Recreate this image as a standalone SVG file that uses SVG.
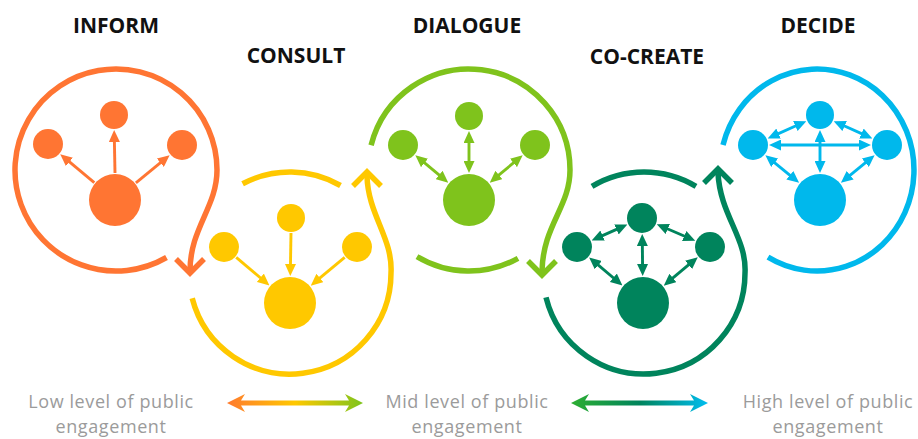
<svg xmlns="http://www.w3.org/2000/svg" width="918" height="439" viewBox="0 0 918 439">
<style>
.title{font-family:"Open Sans","Liberation Sans",sans-serif;font-weight:bold;font-size:21px;fill:#111;text-anchor:middle}
.lvl{font-family:"Open Sans","Liberation Sans",sans-serif;font-size:18px;letter-spacing:0.6px;fill:#9b9b9b;text-anchor:middle}
.ring{fill:none;stroke-width:5.5}
.chev{fill:none;stroke-width:5.5;stroke-linejoin:miter;stroke-miterlimit:10}
.link{fill:none;stroke-width:2.9}
.or{stroke:#FF7533}.ye{stroke:#FFC800}.gr{stroke:#7FC31C}.te{stroke:#00845C}.bl{stroke:#00B8EC}
.for{fill:#FF7533}.fye{fill:#FFC800}.fgr{fill:#7FC31C}.fte{fill:#00845C}.fbl{fill:#00B8EC}
</style>
<defs>
<marker id="m-or" viewBox="0 0 12 11" markerWidth="12" markerHeight="11" refX="5" refY="5.5" orient="auto-start-reverse" markerUnits="userSpaceOnUse"><path d="M0,0 L12,5.5 L0,11 z" fill="#FF7533"/></marker>
<marker id="m-ye" viewBox="0 0 12 11" markerWidth="12" markerHeight="11" refX="5" refY="5.5" orient="auto-start-reverse" markerUnits="userSpaceOnUse"><path d="M0,0 L12,5.5 L0,11 z" fill="#FFC800"/></marker>
<marker id="m-gr" viewBox="0 0 12 11" markerWidth="12" markerHeight="11" refX="5" refY="5.5" orient="auto-start-reverse" markerUnits="userSpaceOnUse"><path d="M0,0 L12,5.5 L0,11 z" fill="#7FC31C"/></marker>
<marker id="m-te" viewBox="0 0 12 11" markerWidth="12" markerHeight="11" refX="5" refY="5.5" orient="auto-start-reverse" markerUnits="userSpaceOnUse"><path d="M0,0 L12,5.5 L0,11 z" fill="#00845C"/></marker>
<marker id="m-bl" viewBox="0 0 12 11" markerWidth="12" markerHeight="11" refX="5" refY="5.5" orient="auto-start-reverse" markerUnits="userSpaceOnUse"><path d="M0,0 L12,5.5 L0,11 z" fill="#00B8EC"/></marker>
<linearGradient id="g1" gradientUnits="userSpaceOnUse" x1="227" y1="0" x2="363" y2="0">
<stop offset="0" stop-color="#FF7A2E"/><stop offset="0.5" stop-color="#FFC800"/><stop offset="1" stop-color="#7DC41C"/>
</linearGradient>
<linearGradient id="g2" gradientUnits="userSpaceOnUse" x1="571" y1="0" x2="708" y2="0">
<stop offset="0" stop-color="#2DAE32"/><stop offset="0.5" stop-color="#00845C"/><stop offset="1" stop-color="#00BDF0"/>
</linearGradient>
</defs>
<rect width="918" height="439" fill="#fff"/>

<g id="inform">
<text class="title" x="116" y="33">INFORM</text>
<path class="ring or" d="M166.5 257.5 A101 101 0 1 1 217 170 C217 207 190 228 190 271"/>
<path class="chev or" d="M176 259 L190 273 L204 259"/>
<circle class="for" cx="114" cy="115" r="14"/>
<circle class="for" cx="48" cy="144" r="15"/>
<circle class="for" cx="182" cy="145" r="15"/>
<circle class="for" cx="115" cy="200" r="26"/>
</g>

<g id="consult">
<text class="title" x="296" y="63">CONSULT</text>
<path class="ring ye" d="M242.6 183.8 A101 101 0 0 1 340.5 185.5"/>
<path class="ring ye" d="M192.2 298.3 A101 101 0 0 0 391 273 C393 238 368 215 367 176"/>
<path class="chev ye" d="M353 186 L367 172 L381 186"/>
<circle class="fye" cx="291" cy="218" r="14"/>
<circle class="fye" cx="224" cy="247" r="15"/>
<circle class="fye" cx="357" cy="247" r="15"/>
<circle class="fye" cx="290" cy="303" r="26"/>
</g>

<g id="dialogue">
<text class="title" x="467" y="33">DIALOGUE</text>
<path class="ring gr" d="M371.1 145.2 A101 101 0 0 1 570 170 C570 207 543 225 542 271"/>
<path class="chev gr" d="M528 261 L542 275 L556 261"/>
<path class="ring gr" d="M417 256.6 A101 101 0 0 0 518 258.3"/>
<circle class="fgr" cx="469" cy="116" r="14"/>
<circle class="fgr" cx="403" cy="145" r="15"/>
<circle class="fgr" cx="535" cy="145" r="15"/>
<circle class="fgr" cx="469" cy="200" r="26"/>
</g>

<g id="co-create">
<text class="title" x="647" y="64">CO-CREATE</text>
<path class="ring te" d="M592 186.4 A101 101 0 0 1 696 186.4"/>
<path class="ring te" d="M546 297.4 A101 101 0 0 0 745 273 C747 238 720 215 718 173"/>
<path class="chev te" d="M704 183 L718 169 L732 183"/>
<circle class="fte" cx="642" cy="218" r="15"/>
<circle class="fte" cx="577" cy="247" r="15"/>
<circle class="fte" cx="710" cy="247" r="15"/>
<circle class="fte" cx="643" cy="303" r="26"/>
</g>

<g id="decide">
<text class="title" x="818" y="33">DECIDE</text>
<path class="ring bl" d="M723 145 A97 101 0 1 1 768 257.2"/>
<circle class="fbl" cx="820" cy="115" r="14"/>
<circle class="fbl" cx="753" cy="145" r="15"/>
<circle class="fbl" cx="887" cy="145" r="15"/>
<circle class="fbl" cx="820" cy="200" r="26"/>
</g>

<g id="connectors">
<line class="link or" x1="115" y1="173" x2="114.3" y2="137" marker-end="url(#m-or)"/>
<line class="link or" x1="94.3" y1="182.7" x2="65.6" y2="158.7" marker-end="url(#m-or)"/>
<line class="link or" x1="135.9" y1="182.9" x2="164.2" y2="159.6" marker-end="url(#m-or)"/>

<line class="link ye" x1="291" y1="233" x2="290.4" y2="269" marker-end="url(#m-ye)"/>
<line class="link ye" x1="236.2" y1="257.3" x2="264.1" y2="281" marker-end="url(#m-ye)"/>
<line class="link ye" x1="344.7" y1="257.3" x2="316.1" y2="281.2" marker-end="url(#m-ye)"/>

<line class="link gr" x1="469" y1="166" x2="469" y2="138" marker-start="url(#m-gr)" marker-end="url(#m-gr)"/>
<line class="link gr" x1="442.9" y1="178.2" x2="420.7" y2="159.7" marker-start="url(#m-gr)" marker-end="url(#m-gr)"/>
<line class="link gr" x1="495.1" y1="178.2" x2="517.3" y2="159.7" marker-start="url(#m-gr)" marker-end="url(#m-gr)"/>

<line class="link te" x1="642.3" y1="241" x2="642.6" y2="269" marker-start="url(#m-te)" marker-end="url(#m-te)"/>
<line class="link te" x1="621" y1="227.4" x2="598" y2="237.6" marker-start="url(#m-te)" marker-end="url(#m-te)"/>
<line class="link te" x1="663.2" y1="227" x2="688.8" y2="238" marker-start="url(#m-te)" marker-end="url(#m-te)"/>
<line class="link te" x1="594.5" y1="261.9" x2="617.1" y2="281" marker-start="url(#m-te)" marker-end="url(#m-te)"/>
<line class="link te" x1="692.4" y1="261.7" x2="669.1" y2="281.2" marker-start="url(#m-te)" marker-end="url(#m-te)"/>

<line class="link bl" x1="776" y1="145" x2="864" y2="145" marker-start="url(#m-bl)" marker-end="url(#m-bl)"/>
<line class="link bl" x1="820" y1="137" x2="820" y2="166" marker-start="url(#m-bl)" marker-end="url(#m-bl)"/>
<line class="link bl" x1="799.9" y1="124" x2="774" y2="135.6" marker-start="url(#m-bl)" marker-end="url(#m-bl)"/>
<line class="link bl" x1="840.1" y1="124" x2="866" y2="135.6" marker-start="url(#m-bl)" marker-end="url(#m-bl)"/>
<line class="link bl" x1="770.8" y1="159.6" x2="793.7" y2="178.4" marker-start="url(#m-bl)" marker-end="url(#m-bl)"/>
<line class="link bl" x1="869.2" y1="159.6" x2="846.3" y2="178.4" marker-start="url(#m-bl)" marker-end="url(#m-bl)"/>
</g>

<g id="legend">
<polygon fill="url(#g1)" points="227,403 245,394 241,400.5 349,400.5 345,394 363,403 345,412 349,405.5 241,405.5 245,412"/>
<polygon fill="url(#g2)" points="571,403 589,394 585,400.5 694,400.5 690,394 708,403 690,412 694,405.5 585,405.5 589,412"/>
<text class="lvl" x="111" y="408">Low level of public</text>
<text class="lvl" x="111" y="433">engagement</text>
<text class="lvl" x="467" y="408">Mid level of public</text>
<text class="lvl" x="467" y="433">engagement</text>
<text class="lvl" x="828" y="408">High level of public</text>
<text class="lvl" x="828" y="433">engagement</text>
</g>
</svg>
